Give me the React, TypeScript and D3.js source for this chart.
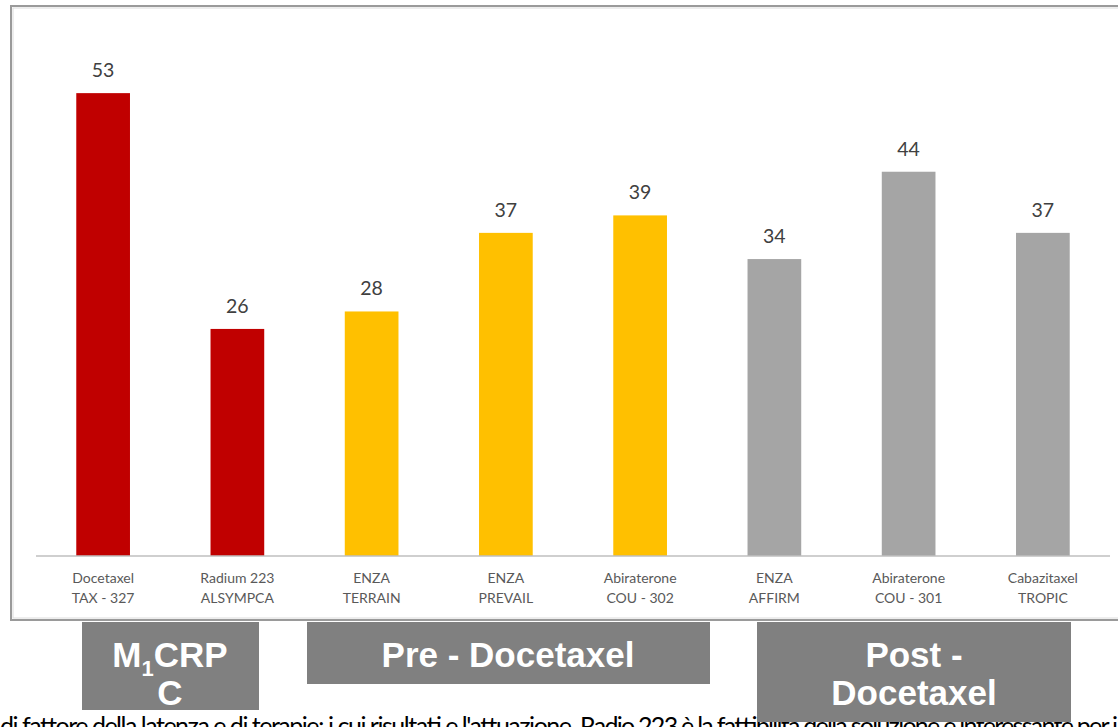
import React from "react";
import * as d3 from "d3";

const categories = [
  ["Docetaxel", "TAX - 327"],
  ["Radium 223", "ALSYMPCA"],
  ["ENZA", "TERRAIN"],
  ["ENZA", "PREVAIL"],
  ["Abiraterone", "COU - 302"],
  ["ENZA", "AFFIRM"],
  ["Abiraterone", "COU - 301"],
  ["Cabazitaxel", "TROPIC"],
];
const values = [53, 26, 28, 37, 39, 34, 44, 37];
const groupOf = ["m1", "m1", "pre", "pre", "pre", "post", "post", "post"];
const groupColors: Record<string, string> = { m1: "#C00000", pre: "#FFC000", post: "#A5A5A5" };

const W = 1118;
const H = 727;

export default function App() {
  const x = d3
    .scaleBand<number>()
    .domain(d3.range(values.length))
    .range([36, 1110])
    .paddingInner(0.6)
    .paddingOuter(0.3);
  const y = d3.scaleLinear().domain([0, 60]).range([556, 32]);
  const font = "Lato, 'Open Sans', sans-serif";
  const bold = "'Liberation Sans', Arial, sans-serif";

  return (
    <svg
      width={W}
      height={H}
      style={{ position: "absolute", left: 0, top: 0, background: "#fff" }}
    >
      {/* chart frame */}
      <rect x={11} y={6} width={1200} height={614} fill="#fff" stroke="#9a9a9a" strokeWidth={2} />
      <rect x={13} y={8} width={1200} height={610} fill="none" stroke="#dcdcdc" strokeWidth={1} />

      {/* bars */}
      {values.map((v, i) => (
        <rect
          key={"b" + i}
          x={x(i)}
          y={y(v)}
          width={x.bandwidth()}
          height={y(0) - y(v)}
          fill={groupColors[groupOf[i]]}
        />
      ))}

      {/* axis line */}
      <line x1={36} x2={1110} y1={y(0)} y2={y(0)} stroke="#BFBFBF" strokeWidth={1.5} />

      {/* value labels */}
      {values.map((v, i) => (
        <text
          key={"v" + i}
          x={(x(i) as number) + x.bandwidth() / 2}
          y={y(v) - 16}
          textAnchor="middle"
          fontFamily={font}
          fontSize={19.5}
          fill="#404040"
        >
          {v}
        </text>
      ))}

      {/* category labels */}
      {categories.map((c, i) => (
        <text
          key={"c" + i}
          x={(x(i) as number) + x.bandwidth() / 2}
          textAnchor="middle"
          fontFamily={font}
          fontSize={14}
          fill="#595959"
        >
          <tspan x={(x(i) as number) + x.bandwidth() / 2} y={583}>{c[0]}</tspan>
          <tspan x={(x(i) as number) + x.bandwidth() / 2} y={603}>{c[1]}</tspan>
        </text>
      ))}

      {/* clipped text line below */}
      <text x={0} y={735} fontFamily={font} fontSize={25} fill="#000" textLength={572} lengthAdjust="spacing">
        di fattore della latenza e di terapie; i cui risultati e l'attuazione
      </text>
      <text x={580} y={735} fontFamily={font} fontSize={25} fill="#000" textLength={538} lengthAdjust="spacing">
        Radio 223 è la fattibilità della soluzione è interessante per i
      </text>

      {/* group boxes */}
      <rect x={82} y={622} width={177} height={88} fill="#808080" />
      <text x={170} y={667} textAnchor="middle" fontFamily={bold} fontWeight="bold" fontSize={35} fill="#fff">
        M<tspan fontSize={22} dy={9}>1</tspan>
        <tspan dy={-9}>CRP</tspan>
      </text>
      <text x={170} y={705} textAnchor="middle" fontFamily={bold} fontWeight="bold" fontSize={35} fill="#fff">
        C
      </text>

      <rect x={307} y={622} width={403} height={62} fill="#808080" />
      <text x={508} y={667} textAnchor="middle" fontFamily={bold} fontWeight="bold" fontSize={35} fill="#fff">
        Pre - Docetaxel
      </text>

      <rect x={757} y={622} width={314} height={100} fill="#808080" />
      <text x={914} y={667} textAnchor="middle" fontFamily={bold} fontWeight="bold" fontSize={35} fill="#fff">
        Post -
      </text>
      <text x={914} y={705} textAnchor="middle" fontFamily={bold} fontWeight="bold" fontSize={35} fill="#fff">
        Docetaxel
      </text>
    </svg>
  );
}
